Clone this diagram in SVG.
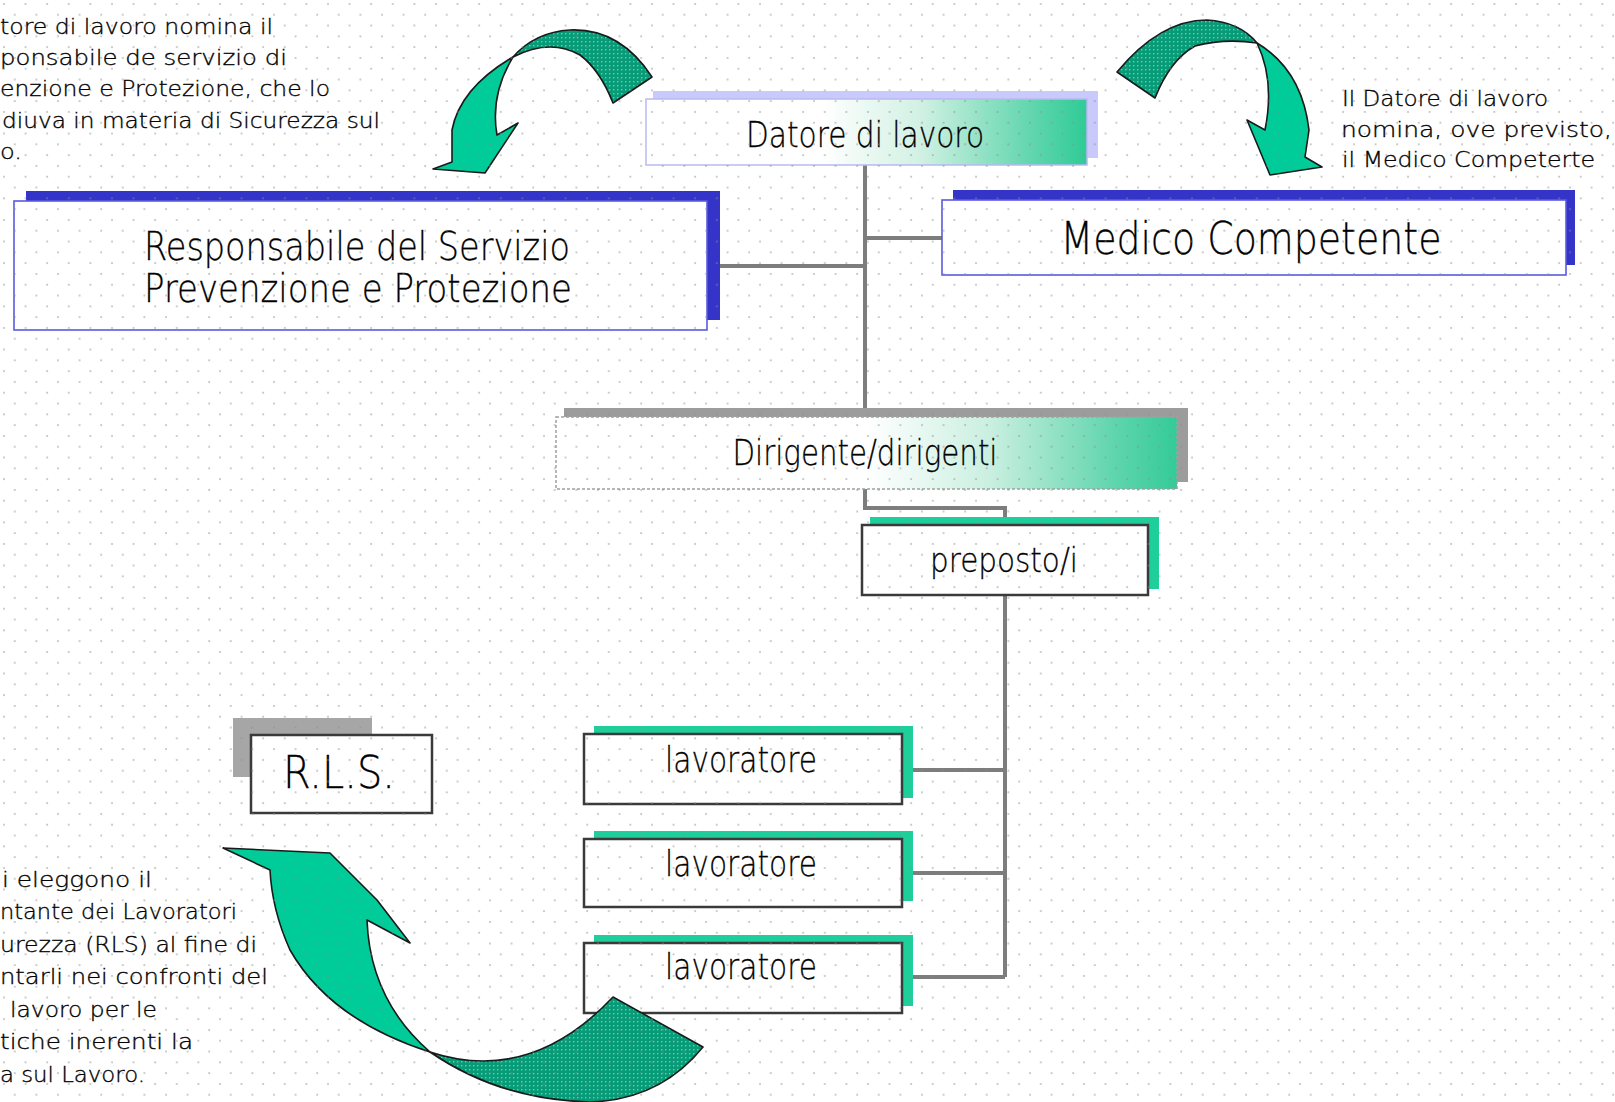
<svg xmlns="http://www.w3.org/2000/svg" width="1615" height="1102" viewBox="0 0 1615 1102">
  <defs>
    <style>
      .note { font-family: "DejaVu Sans", "Liberation Sans", sans-serif; font-weight: 200; font-size: 22px; fill: #000; stroke: #000; stroke-width: 0.35; }
      .label { font-family: "DejaVu Sans", "Liberation Sans", sans-serif; font-weight: 200; fill: #000; text-anchor: middle; stroke: #000; stroke-width: 0.3; }
      .conn { stroke: #7d7d7d; stroke-width: 4; fill: none; }
      .box-plain { fill: #fff; stroke: #3a3a3a; stroke-width: 2.5; }
      .box-blue { fill: #fff; stroke: #5a5ae0; stroke-width: 1.6; }
      .shadow-blue { fill: #3434c8; }
      .shadow-green { fill: #1fcf9b; }
      .shadow-grey { fill: #a6a6a6; }
      .arrow-front { fill: #00cc99; stroke: #1a1a1a; stroke-width: 1.6; stroke-linejoin: round; }
      .arrow-back { fill: url(#tealDots); stroke: #1a1a1a; stroke-width: 1.6; stroke-linejoin: round; }
    </style>
    <!-- staggered grid dots laid over the whole sheet -->
    <pattern id="dots" width="21.6" height="21.6" patternUnits="userSpaceOnUse">
      <circle cx="4" cy="4" r="1" fill="#8c8c8c"/>
      <circle cx="14.8" cy="14.8" r="1" fill="#8c8c8c"/>
    </pattern>
    <!-- dithered dark teal for the back face of the ribbon arrows -->
    <pattern id="tealDots" width="4" height="4" patternUnits="userSpaceOnUse">
      <rect width="4" height="4" fill="#079b78"/>
      <rect x="1" y="1" width="1.4" height="1.4" fill="#4fdcb0"/>
    </pattern>
    <linearGradient id="gradTop" x1="0" y1="0" x2="1" y2="0">
      <stop offset="0" stop-color="#ffffff"/>
      <stop offset="0.4" stop-color="#ffffff"/>
      <stop offset="0.62" stop-color="#d2f1e4"/>
      <stop offset="0.85" stop-color="#6bd8b3"/>
      <stop offset="1" stop-color="#2fcb96"/>
    </linearGradient>
    <linearGradient id="gradMid" x1="0" y1="0" x2="1" y2="0">
      <stop offset="0" stop-color="#ffffff"/>
      <stop offset="0.5" stop-color="#ffffff"/>
      <stop offset="0.7" stop-color="#c9efe0"/>
      <stop offset="0.9" stop-color="#5fd5ad"/>
      <stop offset="1" stop-color="#34cb98"/>
    </linearGradient>
  </defs>

  <rect width="1615" height="1102" fill="#ffffff"/>

  <!-- organisation chart connectors -->
  <g id="connectors">
    <path class="conn" d="M865,165 V408"/>
    <path class="conn" d="M720,266 H865"/>
    <path class="conn" d="M865,238 H942"/>
    <path class="conn" d="M865,489 V508 H1005 V517"/>
    <path class="conn" d="M1005,595 V977"/>
    <path class="conn" d="M912,770 H1005"/>
    <path class="conn" d="M912,873 H1005"/>
    <path class="conn" d="M912,977 H1005"/>
  </g>

  <g id="node-datore">
    <rect x="653" y="91" width="445" height="67" fill="#c9c9fb"/>
    <rect x="646" y="99" width="441" height="66" fill="url(#gradTop)" stroke="#b9b9f2" stroke-width="1.5"/>
    <text class="label" x="865" y="147" font-size="36" textLength="238" lengthAdjust="spacingAndGlyphs">Datore di lavoro</text>
  </g>

  <g id="node-rspp">
    <rect class="shadow-blue" x="26" y="191" width="694" height="129"/>
    <rect class="box-blue" x="14" y="201" width="693" height="129"/>
    <text class="label" x="357" y="260" font-size="39" textLength="426" lengthAdjust="spacingAndGlyphs">Responsabile del Servizio</text>
    <text class="label" x="358" y="302" font-size="39" textLength="428" lengthAdjust="spacingAndGlyphs">Prevenzione e Protezione</text>
  </g>

  <g id="node-medico">
    <rect class="shadow-blue" x="953" y="190" width="622" height="75"/>
    <rect class="box-blue" x="942" y="200" width="624" height="75"/>
    <text class="label" x="1251" y="254" font-size="44" textLength="381" lengthAdjust="spacingAndGlyphs">Medico Competente</text>
  </g>

  <g id="node-dirigente">
    <rect x="564" y="408" width="624" height="74" fill="#9c9c9c"/>
    <rect x="556" y="417" width="621" height="72" fill="url(#gradMid)" stroke="#a0a0a0" stroke-width="1.5" stroke-dasharray="3 2"/>
    <text class="label" x="865" y="465" font-size="35" textLength="265" lengthAdjust="spacingAndGlyphs">Dirigente/dirigenti</text>
  </g>

  <g id="node-preposto">
    <rect class="shadow-green" x="870" y="517" width="289" height="72"/>
    <rect class="box-plain" x="862" y="525" width="286" height="70"/>
    <text class="label" x="1004" y="572" font-size="34" textLength="148" lengthAdjust="spacingAndGlyphs">preposto/i</text>
  </g>

  <g id="node-lavoratore-1">
    <rect class="shadow-green" x="594" y="726" width="319" height="72"/>
    <rect class="box-plain" x="584" y="734" width="318" height="70"/>
    <text class="label" x="741" y="772" font-size="35" textLength="152" lengthAdjust="spacingAndGlyphs">lavoratore</text>
  </g>

  <g id="node-lavoratore-2">
    <rect class="shadow-green" x="594" y="831" width="319" height="70"/>
    <rect class="box-plain" x="584" y="839" width="318" height="68"/>
    <text class="label" x="741" y="876" font-size="35" textLength="152" lengthAdjust="spacingAndGlyphs">lavoratore</text>
  </g>

  <g id="node-lavoratore-3">
    <rect class="shadow-green" x="594" y="935" width="319" height="71"/>
    <rect class="box-plain" x="584" y="943" width="318" height="70"/>
    <text class="label" x="741" y="979" font-size="35" textLength="152" lengthAdjust="spacingAndGlyphs">lavoratore</text>
  </g>

  <g id="node-rls">
    <rect class="shadow-grey" x="233" y="718" width="139" height="59"/>
    <rect class="box-plain" x="251" y="735" width="181" height="78"/>
    <text class="label" x="339" y="788" font-size="44" textLength="112" lengthAdjust="spacingAndGlyphs">R.L.S.</text>
  </g>

  <!-- ribbon arrows: dark back face, light front face with head -->
  <g id="arrows">
    <g id="arrow-rspp">
      <path class="arrow-back" d="M652,77 Q620,28 570,30 Q535,32 513,57 Q550,38 580,55 Q600,70 613,103 Z"/>
      <path class="arrow-front" d="M513,57 Q460,88 452,130 L452,162 L433,169 L485,173 L518,123 L497,135 Q490,95 513,57 Z"/>
    </g>
    <g id="arrow-medico">
      <path class="arrow-back" d="M1117,72 Q1160,20 1207,20 Q1240,22 1257,43 Q1225,38 1195,46 Q1170,60 1155,98 Z"/>
      <path class="arrow-front" d="M1257,43 Q1302,70 1309,130 L1305,157 L1322,167 L1270,175 L1247,120 L1265,130 Q1275,80 1257,43 Z"/>
    </g>
    <g id="arrow-rls">
      <path class="arrow-back" d="M430,1052 Q530,1085 613,997 L703,1047 Q660,1100 590,1102 Q500,1100 430,1052 Z"/>
      <path class="arrow-front" d="M430,1052 Q330,1020 290,950 Q272,910 270,870 L223,848 L330,853 L377,900 L410,943 L367,920 Q370,1000 430,1052 Z"/>
    </g>
  </g>

  <!-- explanatory notes -->
  <g id="notes">
    <text class="note" x="0" y="34" textLength="273" lengthAdjust="spacingAndGlyphs">tore di lavoro nomina il</text>
    <text class="note" x="0" y="65" textLength="287" lengthAdjust="spacingAndGlyphs">ponsabile  de  servizio di</text>
    <text class="note" x="0" y="96" textLength="330" lengthAdjust="spacingAndGlyphs">enzione e Protezione, che lo</text>
    <text class="note" x="2" y="128" textLength="378" lengthAdjust="spacingAndGlyphs">diuva in materia di Sicurezza sul</text>
    <text class="note" x="0" y="159" textLength="22" lengthAdjust="spacingAndGlyphs">o.</text>

    <text class="note" x="1342" y="106" textLength="206" lengthAdjust="spacingAndGlyphs">Il Datore di lavoro</text>
    <text class="note" x="1341" y="137" textLength="271" lengthAdjust="spacingAndGlyphs">nomina, ove previsto,</text>
    <text class="note" x="1342" y="167" textLength="253" lengthAdjust="spacingAndGlyphs">il Medico Competerte</text>

    <text class="note" x="2" y="887" textLength="150" lengthAdjust="spacingAndGlyphs">i eleggono il</text>
    <text class="note" x="0" y="919" textLength="237" lengthAdjust="spacingAndGlyphs">ntante dei Lavoratori</text>
    <text class="note" x="0" y="952" textLength="257" lengthAdjust="spacingAndGlyphs">urezza (RLS) al fine di</text>
    <text class="note" x="0" y="984" textLength="268" lengthAdjust="spacingAndGlyphs">ntarli nei confronti del</text>
    <text class="note" x="10" y="1017" textLength="147" lengthAdjust="spacingAndGlyphs">lavoro per le</text>
    <text class="note" x="0" y="1049" textLength="193" lengthAdjust="spacingAndGlyphs">tiche inerenti la</text>
    <text class="note" x="0" y="1082" textLength="145" lengthAdjust="spacingAndGlyphs">a sul Lavoro.</text>
  </g>

  <rect width="1615" height="1102" fill="url(#dots)" opacity="0.6" pointer-events="none"/>
</svg>
